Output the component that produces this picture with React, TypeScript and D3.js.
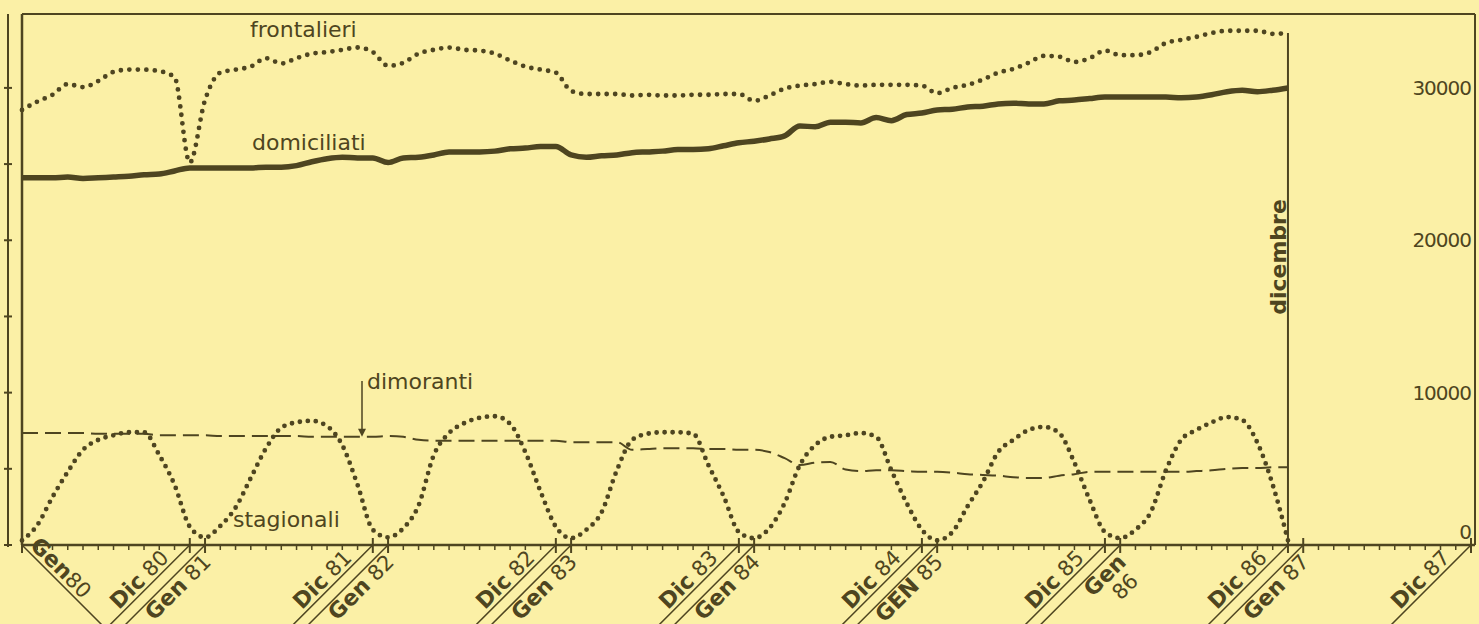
import React from 'react';
import * as d3 from 'd3';

// monthly values, Gen 1980 .. Dic 1986 (84 months)
const frontalieri = [
  28550, 29100, 29550, 30250, 30050, 30450, 31050, 31200, 31200, 31100, 30700, 25100,
  29200, 31000, 31200, 31400, 31950, 31600, 31950, 32250, 32350, 32500, 32650, 32350,
  31450, 31650, 32250, 32500, 32650, 32500, 32450, 32250, 31800, 31400, 31200, 31000,
  29800, 29600, 29600, 29600, 29500, 29550, 29500, 29500, 29550, 29550, 29600, 29600,
  29150, 29500, 29950, 30150, 30250, 30400, 30250, 30150, 30200, 30200, 30200, 30150,
  29650, 30000, 30200, 30550, 31000, 31250, 31650, 32100, 32050, 31700, 31950, 32450,
  32150, 32150, 32350, 32950, 33150, 33350, 33600, 33750, 33750, 33750, 33550, 33600,
];

const domiciliati = [
  24100, 24100, 24100, 24150, 24050, 24100, 24150, 24200, 24300, 24350, 24550, 24750,
  24750, 24750, 24750, 24750, 24800, 24800, 24900, 25150, 25350, 25450, 25400, 25400,
  25100, 25400, 25450, 25600, 25800, 25800, 25800, 25850, 26000, 26050, 26150, 26150,
  25600, 25450, 25550, 25600, 25750, 25800, 25850, 25950, 25950, 26000, 26200, 26400,
  26500, 26650, 26850, 27500, 27450, 27750, 27750, 27700, 28050, 27850, 28250, 28350,
  28550, 28600, 28750, 28800, 28950, 29000, 28950, 28950, 29150, 29200, 29300, 29400,
  29400, 29400, 29400, 29400, 29350, 29400, 29550, 29750, 29850, 29750, 29850, 30000,
];

const dimoranti = [
  7350, 7350, 7350, 7350, 7350, 7300, 7300, 7300, 7300, 7200, 7200, 7200,
  7200, 7150, 7150, 7150, 7150, 7150, 7150, 7100, 7100, 7100, 7100, 7100,
  7150, 7100, 6900, 6850, 6850, 6850, 6850, 6850, 6850, 6850, 6850, 6850,
  6750, 6750, 6750, 6750, 6250, 6300, 6350, 6350, 6350, 6300, 6300, 6250,
  6250, 6100, 5700, 5250, 5400, 5450, 4950, 4850, 4900, 4900, 4850, 4800,
  4800, 4750, 4650, 4600, 4550, 4450, 4400, 4400, 4550, 4650, 4800, 4800,
  4800, 4800, 4800, 4800, 4800, 4850, 4900, 5000, 5050, 5050, 5100, 5100,
];

const stagionali = [
  300, 1300, 3150, 4800, 6250, 6900, 7200, 7400, 7400, 5900, 3950, 1200,
  500, 1250, 2450, 4400, 6350, 7700, 8050, 8150, 7800, 6550, 3950, 1000,
  500, 1100, 2600, 5900, 7350, 8000, 8350, 8450, 7950, 6100, 3500, 1200,
  450, 1000, 2150, 4900, 6900, 7300, 7400, 7400, 7300, 5250, 3200, 850,
  450, 1100, 2750, 5250, 6550, 7100, 7200, 7350, 7100, 4900, 2750, 1000,
  300, 850, 2550, 4150, 6100, 6900, 7550, 7750, 7350, 5400, 2950, 850,
  450, 1000, 2150, 4900, 6900, 7550, 8050, 8400, 8200, 6700, 3950, 300,
];

const rightTicks = [0, 10000, 20000, 30000];
const leftTicks = [0, 5000, 10000, 15000, 20000, 25000, 30000];

// month index on the x axis, with the printed name and year
const markLabels = [
  { m: 0, name: 'Gen', year: '80', kind: 'first' },
  { m: 11, name: 'Dic', year: '80', kind: 'dic' },
  { m: 12, name: 'Gen', year: '81', kind: 'gen' },
  { m: 23, name: 'Dic', year: '81', kind: 'dic' },
  { m: 24, name: 'Gen', year: '82', kind: 'gen' },
  { m: 35, name: 'Dic', year: '82', kind: 'dic' },
  { m: 36, name: 'Gen', year: '83', kind: 'gen' },
  { m: 47, name: 'Dic', year: '83', kind: 'dic' },
  { m: 48, name: 'Gen', year: '84', kind: 'gen' },
  { m: 59, name: 'Dic', year: '84', kind: 'dic' },
  { m: 60, name: 'GEN', year: '85', kind: 'gen' },
  { m: 71, name: 'Dic', year: '85', kind: 'dic' },
  { m: 72, name: 'Gen', year: '86', kind: 'gen2' },
  { m: 83, name: 'Dic', year: '86', kind: 'dic' },
  { m: 84, name: 'Gen', year: '87', kind: 'gen' },
  { m: 95, name: 'Dic', year: '87', kind: 'dic' },
];

const W = 1479;
const H = 624;
const PAPER = '#fbf0a6';
const INK = '#4e4520';
const FONT = '"DejaVu Sans", "Liberation Sans", sans-serif';

export default function App() {
  const left = 22, right = 1475, top = 14, bottom = 545;
  const x = d3.scaleLinear().domain([0, 95]).range([left, 1471]);
  const y = d3.scaleLinear().domain([0, 34850]).range([bottom, top]);

  const path = (vals: number[]) =>
    d3.line<number>()
      .x((_, i) => x(i))
      .y(d => y(d))
      .curve(d3.curveMonotoneX)(vals) || '';

  const markSet = new Set(markLabels.map(l => l.m));
  const lastM = frontalieri.length - 1;
  const arrowX = 362;
  const arrowTip = y(dimoranti[Math.round(x.invert(arrowX))]);

  return (
    <svg width={W} height={H} style={{ position: 'absolute', left: 0, top: 0, display: 'block' }}
      fontFamily={FONT}>
      <rect x={0} y={0} width={W} height={H} fill={PAPER} />

      {/* outer left scale */}
      <line x1={8} x2={8} y1={top} y2={y(0) + 2} stroke={INK} strokeWidth={2} />
      {leftTicks.map(t => (
        <line key={t} x1={4} x2={12} y1={y(t)} y2={y(t)} stroke={INK} strokeWidth={2} />
      ))}

      {/* frame */}
      <line x1={left} x2={right} y1={top} y2={top} stroke={INK} strokeWidth={2} />
      <line x1={left} x2={left} y1={top} y2={bottom} stroke={INK} strokeWidth={2.5} />
      <line x1={right} x2={right} y1={top} y2={bottom} stroke={INK} strokeWidth={2} />
      <line x1={left} x2={right} y1={bottom} y2={bottom} stroke={INK} strokeWidth={2.5} />

      {/* month ticks */}
      {d3.range(96).map(m => (
        markSet.has(m)
          ? <line key={m} x1={x(m)} x2={x(m)} y1={bottom - 7} y2={bottom + 8} stroke={INK} strokeWidth={2} />
          : <line key={m} x1={x(m)} x2={x(m)} y1={bottom} y2={bottom + 5} stroke={INK} strokeWidth={1.5} />
      ))}

      {/* december line */}
      <line x1={x(lastM)} x2={x(lastM)} y1={y(frontalieri[lastM])} y2={bottom} stroke={INK} strokeWidth={2} />
      <text transform={`translate(${x(lastM) - 2},${y(18900)}) rotate(-90)`}
        textAnchor="middle" fontSize={22} fontWeight="bold" fill={INK}>dicembre</text>

      {/* series */}
      <path d={path(domiciliati)} fill="none" stroke={INK} strokeWidth={5.5} strokeLinejoin="round" />
      <path d={path(dimoranti)} fill="none" stroke={INK} strokeWidth={2} strokeDasharray="16 7" />
      <path d={path(frontalieri)} fill="none" stroke={INK} strokeWidth={4.8}
        strokeDasharray="0 8.5" strokeLinecap="round" />
      <path d={path(stagionali)} fill="none" stroke={INK} strokeWidth={4.8}
        strokeDasharray="0 8" strokeLinecap="round" />

      {/* series labels */}
      <text x={250} y={37} fontSize={22} fill={INK}>frontalieri</text>
      <text x={252} y={150} fontSize={22} fill={INK}>domiciliati</text>
      <text x={233} y={527} fontSize={22} fill={INK}>stagionali</text>
      <text x={367} y={389} fontSize={22} fill={INK}>dimoranti</text>
      <line x1={arrowX} x2={arrowX} y1={381} y2={arrowTip - 6} stroke={INK} strokeWidth={1.5} />
      <path d={`M${arrowX - 4},${arrowTip - 8}L${arrowX + 4},${arrowTip - 8}L${arrowX},${arrowTip}Z`} fill={INK} />

      {/* right scale */}
      {rightTicks.map(t => (
        <text key={t} x={1471} y={y(t) + (t === 0 ? -6 : 7)} textAnchor="end" fontSize={20}
          letterSpacing={-1} fill={INK}>{t}</text>
      ))}

      {/* month labels */}
      {markLabels.map(l => {
        const tx = x(l.m);
        if (l.kind === 'first') {
          return (
            <g key={l.m} transform={`translate(${tx},${bottom}) rotate(45)`}>
              <line x1={0} y1={0} x2={118} y2={0} stroke={INK} strokeWidth={1.5} />
              <text x={6} y={-4} fill={INK}>
                <tspan fontSize={22} fontWeight="bold">{l.name}</tspan>
                <tspan fontSize={21}>{l.year}</tspan>
              </text>
            </g>
          );
        }
        const isDic = l.kind === 'dic';
        return (
          <g key={l.m} transform={`translate(${tx},${bottom}) rotate(-45)`}>
            <line x1={0} y1={0} x2={-118} y2={0} stroke={INK} strokeWidth={1.5} />
            {l.kind === 'gen2' ? (
              <>
                <text x={-8} y={18} textAnchor="end" fontSize={22} fontWeight="bold" fill={INK}>{l.name}</text>
                <text x={-26} y={40} textAnchor="middle" fontSize={21} fill={INK}>{l.year}</text>
              </>
            ) : (
              <text x={isDic ? -24 : -8} y={isDic ? -4 : 18} textAnchor="end" fill={INK}>
                <tspan fontSize={22} fontWeight="bold">{l.name}</tspan>
                <tspan fontSize={21}>{' ' + l.year}</tspan>
              </text>
            )}
          </g>
        );
      })}
    </svg>
  );
}
